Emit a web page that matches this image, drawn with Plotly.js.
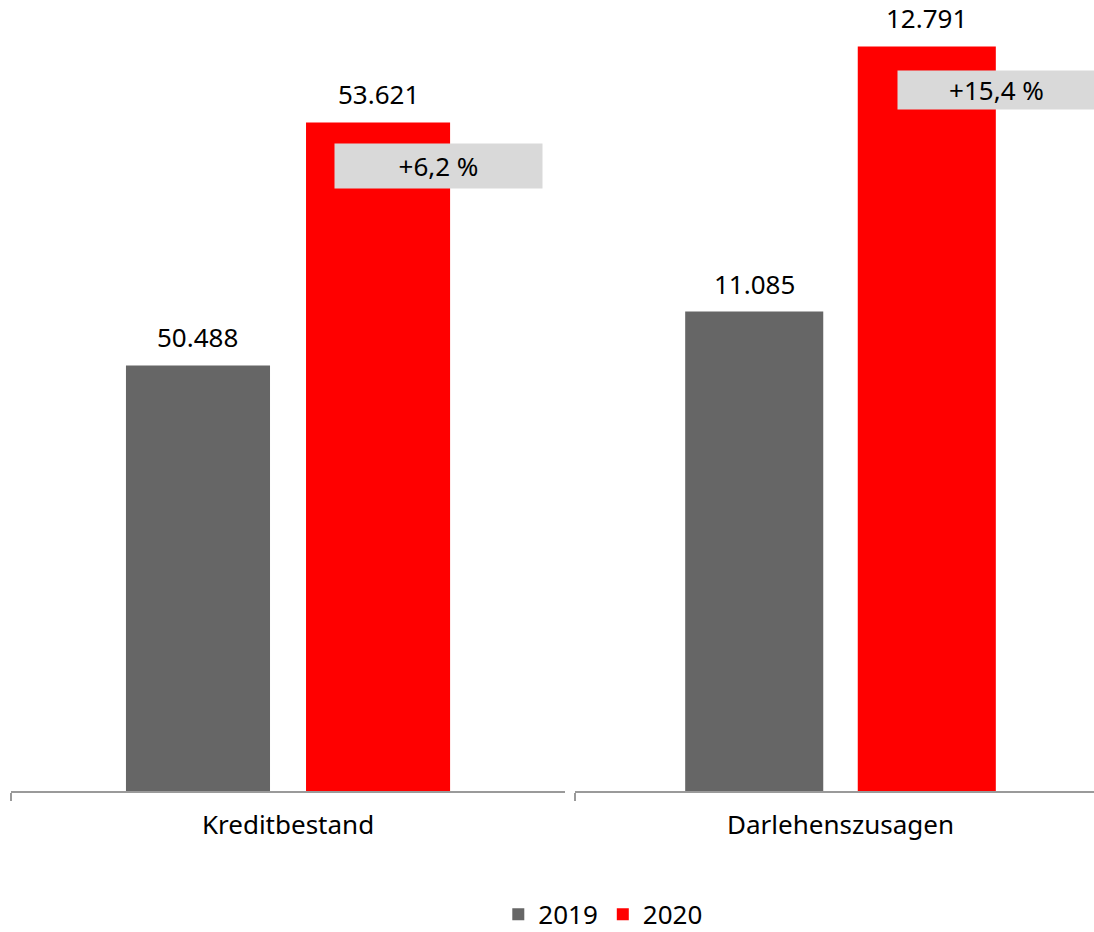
<!DOCTYPE html>
<html>
<head>
<meta charset="utf-8">
<script src="https://cdn.plot.ly/plotly-3.0.1.min.js"></script>
<style>html,body{margin:0;padding:0;background:#fff;}#chart{width:1094px;height:932px;}</style>
</head>
<body>
<div id="chart"></div>
<script>
// ---- data ----
const categories = ["Kreditbestand", "Darlehenszusagen"];
const years = ["2019", "2020"];
const values2019 = [50.488, 11.085];
const values2020 = [53.621, 12.791];
const changeLabels = ["+6,2 %", "+15,4 %"];

// ---- style ----
const FONT = "Noto Sans, Open Sans, DejaVu Sans, sans-serif";
const FS = 26;
const COLORS = ["#666666", "#ff0000"];
const BARGAP = 0.35;
const AXIS_COL = "#9a9a9a";

const series = [values2019, values2020];
const axes = [["x", "y"], ["x2", "y2"]];

const traces = [];
categories.forEach((cat, ci) => {
  years.forEach((yr, yi) => {
    traces.push({
      type: "bar",
      name: yr,
      x: [cat],
      y: [series[yi][ci]],
      xaxis: axes[ci][0],
      yaxis: axes[ci][1],
      marker: {color: COLORS[yi]},
      legendgroup: yr,
      showlegend: ci === 0,
      hoverinfo: "skip"
    });
  });
});

const annotations = [];
categories.forEach((cat, ci) => {
  years.forEach((yr, yi) => {
    const off = (1 - BARGAP) / 4 * (yi === 0 ? -1 : 1);
    annotations.push({
      xref: axes[ci][0], yref: axes[ci][1],
      x: off, y: series[yi][ci],
      text: series[yi][ci].toFixed(3),
      showarrow: false, yanchor: "bottom", yshift: 8,
      font: {family: FONT, size: FS, color: "#000"}
    });
  });
});
// change boxes
const boxPos = [
  {x: 0.4008, y: 0.790, w: 207, h: 44},
  {x: 0.9109, y: 0.8862, w: 197, h: 38}
];
changeLabels.forEach((t, i) => {
  annotations.push({
    xref: "paper", yref: "paper", x: boxPos[i].x, y: boxPos[i].y,
    xanchor: "center", yanchor: "middle",
    text: t, showarrow: false, bgcolor: "#d9d9d9",
    width: boxPos[i].w, height: boxPos[i].h, borderpad: 0,
    font: {family: FONT, size: FS, color: "#000"}
  });
});

const xBase = {
  type: "category", showline: true, linecolor: AXIS_COL, linewidth: 1.5,
  ticks: "outside", tickson: "boundaries", ticklen: 8, tickwidth: 1.5, tickcolor: AXIS_COL,
  ticklabelstandoff: 10,
  tickfont: {family: FONT, size: FS, color: "#000"},
  showgrid: false, zeroline: false, fixedrange: true, automargin: false
};

const layout = {
  width: 1094, height: 932,
  margin: {l: 0, r: 0, t: 0, b: 141, autoexpand: false},
  paper_bgcolor: "#fff", plot_bgcolor: "#fff",
  font: {family: FONT, size: FS, color: "#000"},
  barmode: "group", bargap: BARGAP, bargroupgap: 0.2,
  xaxis: Object.assign({}, xBase, {domain: [0.01005, 0.5165], anchor: "y", range: [-0.5, 0.5]}),
  xaxis2: Object.assign({}, xBase, {domain: [0.5256, 1], anchor: "y2", range: [-0.5, 0.4774]}),
  yaxis: {range: [45, 55.2], visible: false, showgrid: false, zeroline: false},
  yaxis2: {range: [8, 13.09], visible: false, showgrid: false, zeroline: false, anchor: "x2"},
  showlegend: true,
  legend: {
    orientation: "h", x: 0.551, xanchor: "center", yref: "container", y: 0.019, yanchor: "middle",
    font: {family: FONT, size: FS, color: "#000"}, itemwidth: 30, traceorder: "normal",
    bgcolor: "rgba(0,0,0,0)"
  },
  annotations: annotations
};

Plotly.newPlot("chart", traces, layout, {displayModeBar: false, staticPlot: true});
</script>
</body>
</html>
